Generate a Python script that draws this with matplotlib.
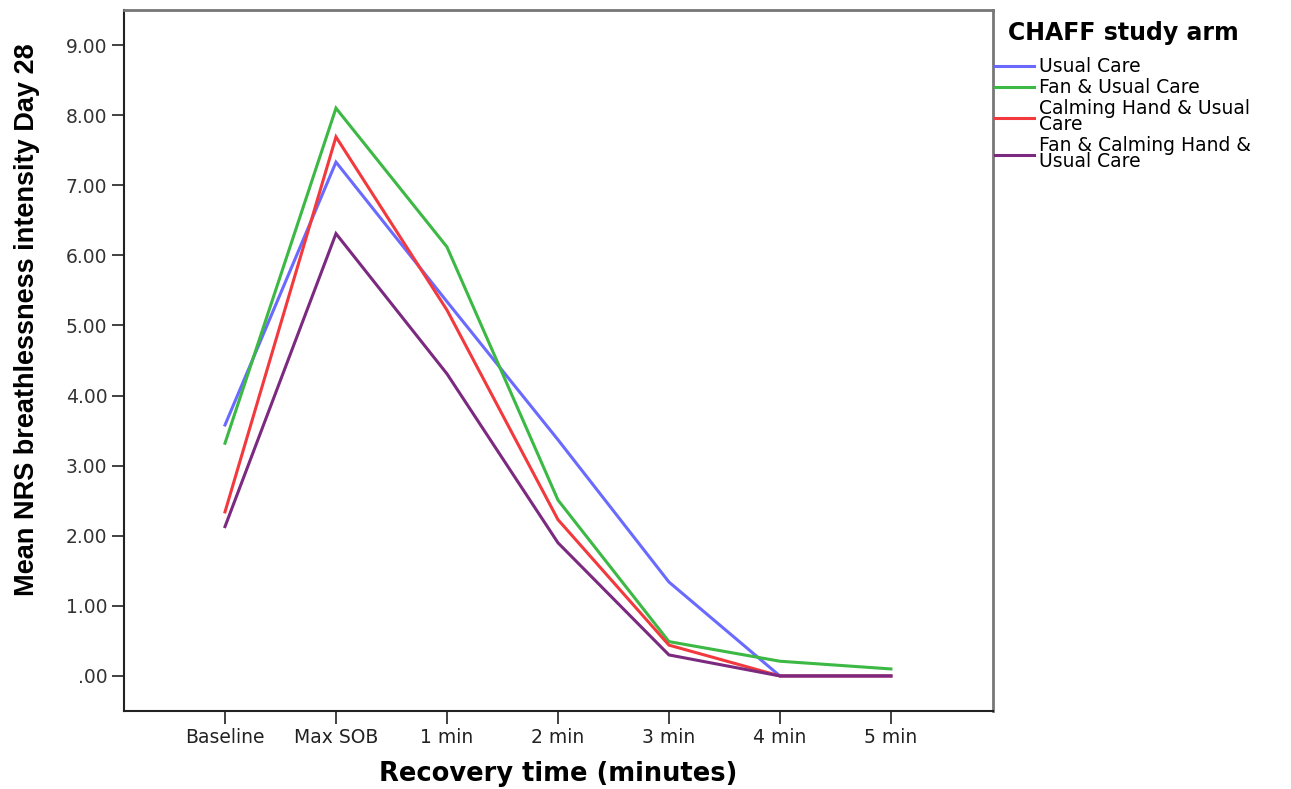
import matplotlib
matplotlib.use("Agg")
from matplotlib import pyplot as plt
from matplotlib.ticker import FuncFormatter

categories = ["Baseline", "Max SOB", "1 min", "2 min", "3 min", "4 min", "5 min"]
usual_care = [3.58, 7.33, 5.34, 3.37, 1.34, 0.0, 0.0]
fan_usual = [3.32, 8.10, 6.12, 2.51, 0.49, 0.21, 0.10]
hand_usual = [2.34, 7.69, 5.22, 2.23, 0.44, 0.0, 0.0]
fan_hand_usual = [2.13, 6.31, 4.31, 1.90, 0.30, 0.0, 0.0]

series = [
    ("Usual Care", usual_care, "#6a6aff"),
    ("Fan & Usual Care", fan_usual, "#3cb844"),
    ("Calming Hand & Usual\nCare", hand_usual, "#f23a3e"),
    ("Fan & Calming Hand &\nUsual Care", fan_hand_usual, "#7b2a80"),
]

plt.rcParams["font.family"] = ["DejaVu Sans"]

fig = plt.figure(figsize=(12.91, 7.89), dpi=100)
ax = fig.add_axes([124 / 1291, 1 - 711 / 789, (993 - 124) / 1291, (711 - 10) / 789])

x = list(range(len(categories)))
for name, vals, col in series:
    ax.plot(x, vals, color=col, lw=2.2, label=name, solid_joinstyle="miter")

ax.set_xlim(-0.91, 6.92)
ax.set_ylim(-0.5, 9.5)
ax.set_xticks(x)
ax.set_xticklabels(categories, fontsize=13.5, color="#222222")
ax.set_yticks(range(0, 10))
ax.yaxis.set_major_formatter(FuncFormatter(lambda v, p: ("%.2f" % v).lstrip("0")))
for lab in ax.get_yticklabels():
    lab.set_fontsize(13.5)
    lab.set_color("#333333")
ax.tick_params(axis="both", direction="out", length=9, width=1.3, color="#333333", pad=3)

for side in ["left", "bottom"]:
    ax.spines[side].set_color("#222222")
    ax.spines[side].set_linewidth(1.5)
for side in ["top", "right"]:
    ax.spines[side].set_color("#777777")
    ax.spines[side].set_linewidth(2)

ax.set_xlabel("Recovery time (minutes)", fontsize=18.5, fontweight="bold", labelpad=10)
fig.text(27 / 1291, 1 - 320 / 789, "Mean NRS breathlessness intensity Day 28",
         rotation=90, ha="center", va="center", fontsize=19.5, fontweight="bold",
         family=["Liberation Sans Narrow", "Liberation Sans"])

leg = ax.legend(loc="upper left", bbox_to_anchor=(1.0, 0.987), frameon=False,
                title="CHAFF study arm", fontsize=13.5, handlelength=2.1,
                handletextpad=0.25, labelspacing=0.1, borderaxespad=0.0,
                borderpad=0.1, alignment="center")
leg.get_title().set_fontweight("bold")
leg.get_title().set_fontsize(17)
for t in leg.get_texts():
    t.set_linespacing(0.8)
# more room between the title and the first entry
leg._legend_box.sep = 9

fig.savefig("out.png", dpi=100)
